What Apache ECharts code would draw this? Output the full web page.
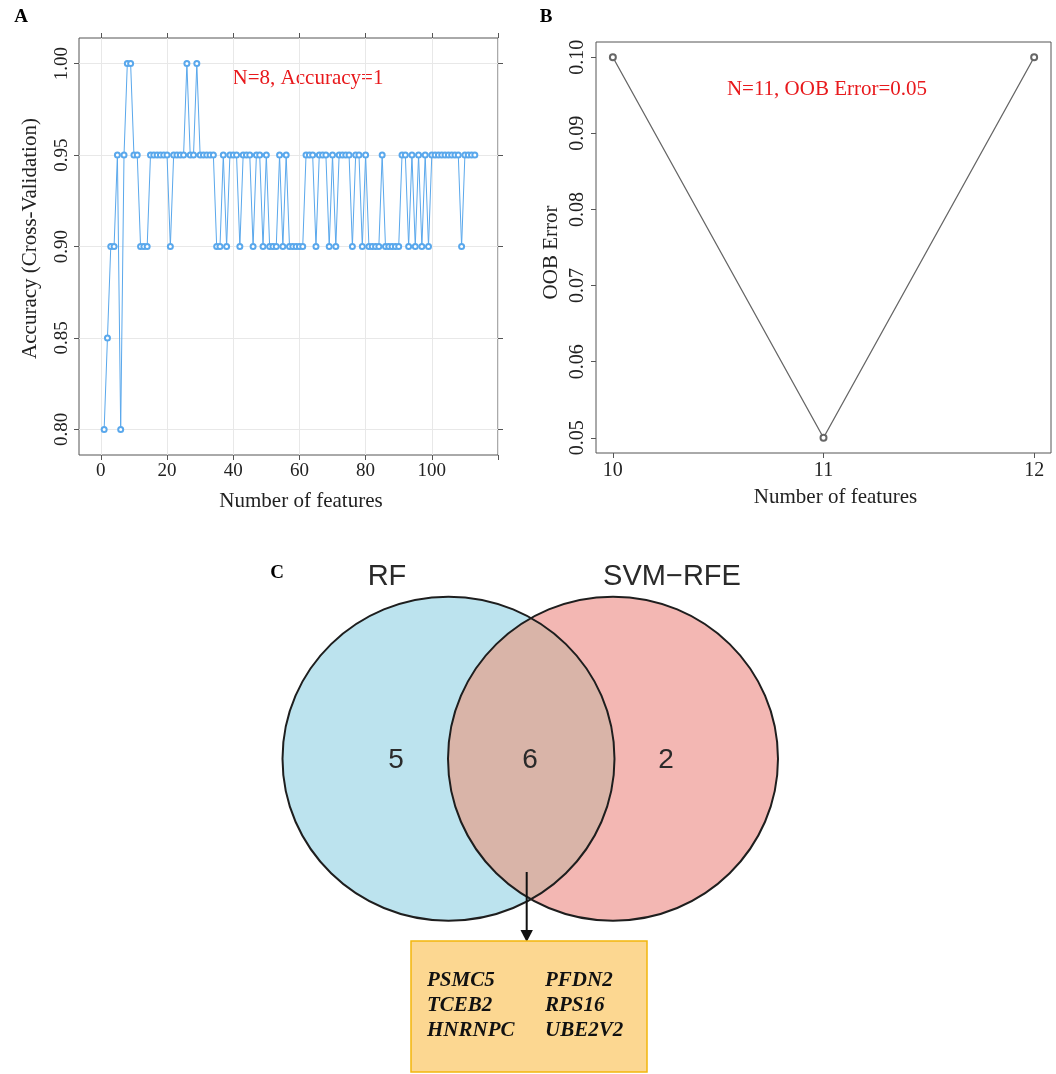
<!DOCTYPE html>
<html>
<head>
<meta charset="utf-8">
<script src="https://cdn.jsdelivr.net/npm/echarts@6/dist/echarts.min.js"></script>
<style>
html, body { margin: 0; padding: 0; background: #fff; }
#main { width: 1056px; height: 1074px; }
</style>
</head>
<body>
<div id="main"></div>
<script>
// A: cross-validation accuracy for 1..113 features
var accuracy = [
    0.80, 0.85, 0.90, 0.90, 0.95, 0.80, 0.95, 1.00, 1.00, 0.95,
    0.95, 0.90, 0.90, 0.90, 0.95, 0.95, 0.95, 0.95, 0.95, 0.95,
    0.90, 0.95, 0.95, 0.95, 0.95, 1.00, 0.95, 0.95, 1.00, 0.95,
    0.95, 0.95, 0.95, 0.95, 0.90, 0.90, 0.95, 0.90, 0.95, 0.95,
    0.95, 0.90, 0.95, 0.95, 0.95, 0.90, 0.95, 0.95, 0.90, 0.95,
    0.90, 0.90, 0.90, 0.95, 0.90, 0.95, 0.90, 0.90, 0.90, 0.90,
    0.90, 0.95, 0.95, 0.95, 0.90, 0.95, 0.95, 0.95, 0.90, 0.95,
    0.90, 0.95, 0.95, 0.95, 0.95, 0.90, 0.95, 0.95, 0.90, 0.95,
    0.90, 0.90, 0.90, 0.90, 0.95, 0.90, 0.90, 0.90, 0.90, 0.90,
    0.95, 0.95, 0.90, 0.95, 0.90, 0.95, 0.90, 0.95, 0.90, 0.95,
    0.95, 0.95, 0.95, 0.95, 0.95, 0.95, 0.95, 0.95, 0.90, 0.95,
    0.95, 0.95, 0.95
];
var accTicksX = [0, 20, 40, 60, 80, 100, 120];
var accLabelsX = [0, 20, 40, 60, 80, 100];
var accTicksY = [0.80, 0.85, 0.90, 0.95, 1.00];

// B: random forest OOB error
var oobFeatures = [10, 11, 12];
var oobError = [0.10, 0.05, 0.10];
var oobTicksX = [10, 11, 12];
var oobTicksY = [0.05, 0.06, 0.07, 0.08, 0.09, 0.10];

// C: venn
var vennSets = ['RF', 'SVM\u2212RFE'];
var vennCounts = [5, 6, 2];
var sharedGenes = [['PSMC5', 'PFDN2'], ['TCEB2', 'RPS16'], ['HNRNPC', 'UBE2V2']];

var serif = '"Liberation Serif", "Times New Roman", serif';
var sans = '"Liberation Sans", Arial, sans-serif';

var accData = accuracy.map(function (v, i) { return [i + 1, v]; });
var oobData = oobFeatures.map(function (f, i) { return [f, oobError[i]]; });

function fix2(v) { return Number(v).toFixed(2); }

var tickLine = { color: '#555', width: 1 };
var noLine = { show: false, onZero: false };

// venn geometry (pixels)
var L = { cx: 448.5, cy: 758.7, rx: 166, ry: 162 };
var R = { cx: 613, cy: 758.7, rx: 165, ry: 162 };
var midX = (L.cx + L.rx + R.cx - R.rx) / 2;
var dy = L.ry * Math.sqrt(1 - Math.pow((midX - L.cx) / L.rx, 2));
// overlap region outline, traced along both ellipses
var lensPts = [];
var steps = 60, k, y;
for (k = 0; k <= steps; k++) {
    y = L.cy - dy + 2 * dy * k / steps;
    lensPts.push([L.cx + L.rx * Math.sqrt(Math.max(0, 1 - Math.pow((y - L.cy) / L.ry, 2))), y]);
}
for (k = steps; k >= 0; k--) {
    y = R.cy - dy + 2 * dy * k / steps;
    lensPts.push([R.cx - R.rx * Math.sqrt(Math.max(0, 1 - Math.pow((y - R.cy) / R.ry, 2))), y]);
}

function label(txt, x, y, font, fill, align) {
    return { type: 'text', x: x, y: y, style: { text: txt, font: font, fill: fill, align: align || 'center', verticalAlign: 'middle' } };
}

var graphics = [
    label('A', 21, 17, 'bold 19px ' + serif, '#000'),
    label('B', 546, 17, 'bold 19px ' + serif, '#000'),
    label('C', 277, 573, 'bold 19px ' + serif, '#000'),
    label('N=8, Accuracy=1', 308, 78, '21px ' + serif, '#e8191c'),
    label('N=11, OOB Error=0.05', 827, 89, '21px ' + serif, '#e8191c'),

    { type: 'ellipse', shape: L, style: { fill: '#bce3ee' } },
    { type: 'ellipse', shape: R, style: { fill: '#f3b7b3' } },
    { type: 'polygon', shape: { points: lensPts }, style: { fill: '#d9b4a8' } },
    { type: 'ellipse', shape: L, style: { fill: 'none', stroke: '#1e1e1e', lineWidth: 2 } },
    { type: 'ellipse', shape: R, style: { fill: 'none', stroke: '#1e1e1e', lineWidth: 2 } },

    label(vennSets[0], 387, 577, '29px ' + sans, '#2a2a2a'),
    label(vennSets[1], 672, 577, '29px ' + sans, '#2a2a2a'),
    label(String(vennCounts[0]), 396, 760, '28px ' + sans, '#2a2a2a'),
    label(String(vennCounts[1]), 530, 760, '28px ' + sans, '#2a2a2a'),
    label(String(vennCounts[2]), 666, 760, '28px ' + sans, '#2a2a2a'),

    { type: 'line', shape: { x1: 526.7, y1: 872, x2: 526.7, y2: 932 }, style: { stroke: '#111', lineWidth: 2 } },
    { type: 'polygon', shape: { points: [[520.5, 930], [532.9, 930], [526.7, 942]] }, style: { fill: '#111' } },

    { type: 'rect', shape: { x: 411, y: 941, width: 236, height: 131 }, style: { fill: '#fcd791', stroke: '#f2b60c', lineWidth: 1.5 } }
];

var geneRowY = [981, 1006, 1031];
var geneColX = [427, 545];
sharedGenes.forEach(function (row, r) {
    row.forEach(function (g, c) {
        graphics.push(label(g, geneColX[c], geneRowY[r], 'italic bold 21px ' + serif, '#111', 'left'));
    });
});

var myChart = echarts.init(document.getElementById('main'));

var option = {
    backgroundColor: '#fff',
    animation: false,
    grid: [
        { left: 79, top: 38, width: 419, height: 417, show: true, borderColor: '#555', borderWidth: 1, backgroundColor: 'transparent' },
        { left: 596, top: 42, width: 455, height: 411, show: true, borderColor: '#555', borderWidth: 1, backgroundColor: 'transparent' }
    ],
    xAxis: [
        {
            gridIndex: 0, type: 'value', min: -6.6, max: 120, position: 'bottom',
            axisLine: noLine,
            axisTick: { show: true, length: 5, customValues: accTicksX, lineStyle: tickLine },
            axisLabel: { customValues: accLabelsX, fontFamily: serif, fontSize: 19, color: '#222', margin: 7 },
            splitLine: { show: true, lineStyle: { color: '#e8e8e8', width: 1 } },
            name: 'Number of features', nameLocation: 'middle', nameGap: 36,
            nameTextStyle: { fontFamily: serif, fontSize: 21, color: '#222', padding: [0, 0, 0, 25] }
        },
        {
            gridIndex: 0, type: 'value', min: -6.6, max: 120, position: 'top',
            axisLine: noLine,
            axisTick: { show: true, length: 5, customValues: accTicksX, lineStyle: tickLine },
            axisLabel: { show: false },
            splitLine: { show: false }
        },
        {
            gridIndex: 1, type: 'value', min: 9.92, max: 12.08, position: 'bottom',
            axisLine: noLine,
            axisTick: { show: true, length: 5, customValues: oobTicksX, lineStyle: tickLine },
            axisLabel: { customValues: oobTicksX, fontFamily: serif, fontSize: 20, color: '#222', margin: 8 },
            splitLine: { show: false },
            name: 'Number of features', nameLocation: 'middle', nameGap: 34,
            nameTextStyle: { fontFamily: serif, fontSize: 21, color: '#222', padding: [0, 0, 0, 24] }
        }
    ],
    yAxis: [
        {
            gridIndex: 0, type: 'value', min: 0.786, max: 1.014, position: 'left',
            axisLine: noLine,
            axisTick: { show: true, length: 5, customValues: accTicksY, lineStyle: tickLine },
            axisLabel: { customValues: accTicksY, formatter: fix2, rotate: 90, fontFamily: serif, fontSize: 19, color: '#222', margin: 7 },
            splitLine: { show: true, lineStyle: { color: '#e8e8e8', width: 1 } },
            name: 'Accuracy (Cross-Validation)', nameLocation: 'middle', nameGap: 38,
            nameTextStyle: { fontFamily: serif, fontSize: 21, color: '#222', padding: [0, 0, 0, 16] }
        },
        {
            gridIndex: 0, type: 'value', min: 0.786, max: 1.014, position: 'right',
            axisLine: noLine,
            axisTick: { show: true, length: 5, customValues: accTicksY, lineStyle: tickLine },
            axisLabel: { show: false },
            splitLine: { show: false }
        },
        {
            gridIndex: 1, type: 'value', min: 0.048, max: 0.102, position: 'left',
            axisLine: noLine,
            axisTick: { show: true, length: 5, customValues: oobTicksY, lineStyle: tickLine },
            axisLabel: { customValues: oobTicksY, formatter: fix2, rotate: 90, fontFamily: serif, fontSize: 20, color: '#222', margin: 8 },
            splitLine: { show: false },
            name: 'OOB Error', nameLocation: 'middle', nameGap: 34,
            nameTextStyle: { fontFamily: serif, fontSize: 21, color: '#222', padding: [0, 10, 0, 0] }
        }
    ],
    series: [
        {
            type: 'line', xAxisIndex: 0, yAxisIndex: 0, data: accData,
            symbol: 'emptyCircle', symbolSize: 5, showAllSymbol: true,
            lineStyle: { color: '#5aa8ec', width: 1 },
            itemStyle: { color: '#5aa8ec', borderWidth: 1 },
            emphasis: { disabled: true }
        },
        {
            type: 'line', xAxisIndex: 2, yAxisIndex: 2, data: oobData,
            symbol: 'emptyCircle', symbolSize: 6,
            lineStyle: { color: '#666', width: 1.3 },
            itemStyle: { color: '#666', borderWidth: 1 },
            emphasis: { disabled: true }
        }
    ],
    graphic: graphics
};

myChart.setOption(option);
</script>
</body>
</html>
